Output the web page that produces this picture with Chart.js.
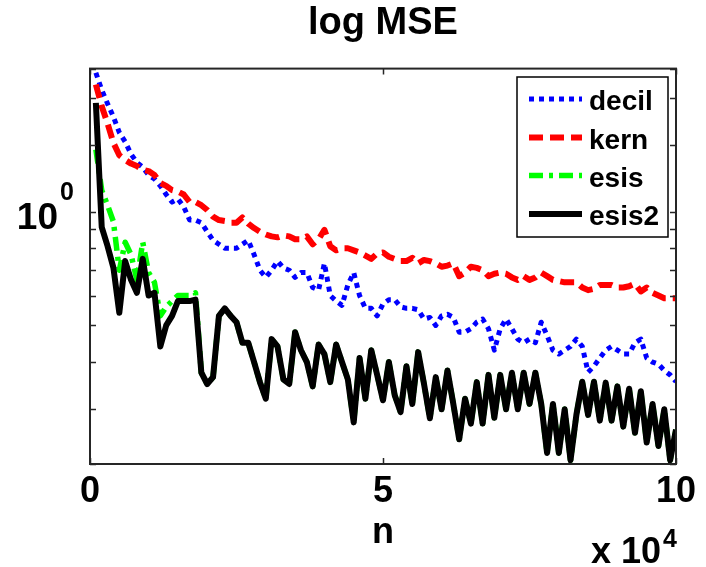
<!DOCTYPE html>
<html lang="en">
<head>
<meta charset="UTF-8">
<title>log MSE</title>
<script src="https://cdn.jsdelivr.net/npm/chart.js"></script>
<style>
  html, body { margin: 0; padding: 0; background: #fff; }
  #wrap { width: 706px; height: 567px; }
</style>
</head>
<body>
<div id="wrap"><canvas id="mseChart" width="706" height="567"></canvas></div>
<script>
// sample sizes n
var n = [1000, 2000, 3000, 4000, 5000, 6000, 7000, 8000, 9000, 10000,
  11000, 12000, 13000, 14000, 15000, 16000, 17000, 18000, 19000, 20000,
  21000, 22000, 23000, 24000, 25000, 26000, 27000, 28000, 29000, 30000,
  31000, 32000, 33000, 34000, 35000, 36000, 37000, 38000, 39000, 40000,
  41000, 42000, 43000, 44000, 45000, 46000, 47000, 48000, 49000, 50000,
  51000, 52000, 53000, 54000, 55000, 56000, 57000, 58000, 59000, 60000,
  61000, 62000, 63000, 64000, 65000, 66000, 67000, 68000, 69000, 70000,
  71000, 72000, 73000, 74000, 75000, 76000, 77000, 78000, 79000, 80000,
  81000, 82000, 83000, 84000, 85000, 86000, 87000, 88000, 89000, 90000,
  91000, 92000, 93000, 94000, 95000, 96000, 97000, 98000, 99000, 100000];

var decil = [2.33, 2.10, 1.93, 1.78, 1.62, 1.53, 1.42, 1.35, 1.31, 1.25,
  1.22, 1.17, 1.11, 1.06, 1.08, 1.03, 0.95, 0.95, 0.935, 0.885,
  0.84, 0.82, 0.80, 0.80, 0.80, 0.82, 0.84, 0.77, 0.70, 0.67,
  0.70, 0.74, 0.71, 0.70, 0.67, 0.69, 0.69, 0.63, 0.62, 0.73,
  0.60, 0.58, 0.565, 0.64, 0.69, 0.60, 0.555, 0.555, 0.53, 0.57,
  0.585, 0.585, 0.56, 0.555, 0.555, 0.55, 0.52, 0.525, 0.50, 0.53,
  0.535, 0.525, 0.48, 0.48, 0.49, 0.51, 0.52, 0.49, 0.43, 0.49,
  0.52, 0.49, 0.46, 0.45, 0.46, 0.45, 0.51, 0.47, 0.43, 0.42,
  0.43, 0.44, 0.46, 0.44, 0.376, 0.39, 0.41, 0.43, 0.44, 0.43,
  0.42, 0.42, 0.45, 0.46, 0.41, 0.40, 0.395, 0.38, 0.37, 0.355];

var kern = [2.17, 1.90, 1.71, 1.52, 1.41, 1.37, 1.34, 1.32, 1.29, 1.28,
  1.25, 1.19, 1.17, 1.14, 1.13, 1.11, 1.06, 1.06, 1.04, 1.01,
  0.97, 0.95, 0.945, 0.935, 0.935, 0.965, 0.93, 0.905, 0.885, 0.87,
  0.86, 0.855, 0.865, 0.86, 0.845, 0.845, 0.86, 0.82, 0.845, 0.895,
  0.81, 0.79, 0.80, 0.80, 0.79, 0.78, 0.765, 0.75, 0.775, 0.78,
  0.76, 0.75, 0.74, 0.74, 0.755, 0.73, 0.745, 0.74, 0.73, 0.715,
  0.72, 0.73, 0.675, 0.69, 0.715, 0.71, 0.70, 0.675, 0.685, 0.69,
  0.685, 0.67, 0.66, 0.675, 0.66, 0.67, 0.69, 0.675, 0.66, 0.655,
  0.65, 0.65, 0.65, 0.63, 0.62, 0.625, 0.64, 0.64, 0.64, 0.63,
  0.63, 0.635, 0.645, 0.615, 0.63, 0.61, 0.60, 0.59, 0.59, 0.59];

var esis = [1.46, 1.14, 1.04, 0.94, 0.70, 0.83, 0.77, 0.66, 0.83, 0.69,
  0.65, 0.53, 0.56, 0.58, 0.60, 0.60, 0.60, 0.61, 0.375, 0.35,
  0.365, 0.53, 0.555, 0.53, 0.51, 0.45, 0.45, 0.40, 0.354, 0.32,
  0.46, 0.44, 0.36, 0.35, 0.48, 0.43, 0.40, 0.345, 0.445, 0.42,
  0.354, 0.445, 0.40, 0.36, 0.277, 0.41, 0.32, 0.43, 0.37, 0.317,
  0.40, 0.327, 0.295, 0.39, 0.31, 0.425, 0.35, 0.284, 0.365, 0.30,
  0.38, 0.31, 0.25, 0.32, 0.275, 0.354, 0.275, 0.37, 0.285, 0.37,
  0.30, 0.375, 0.30, 0.375, 0.31, 0.375, 0.31, 0.23, 0.31, 0.23,
  0.30, 0.22, 0.29, 0.355, 0.29, 0.355, 0.28, 0.353, 0.28, 0.345,
  0.27, 0.34, 0.26, 0.335, 0.245, 0.31, 0.24, 0.30, 0.22, 0.265];

var esis2 = [1.94, 0.91, 0.81, 0.71, 0.54, 0.74, 0.66, 0.61, 0.75, 0.60,
  0.61, 0.44, 0.50, 0.53, 0.58, 0.58, 0.58, 0.585, 0.375, 0.35,
  0.365, 0.53, 0.555, 0.53, 0.51, 0.45, 0.45, 0.40, 0.354, 0.32,
  0.46, 0.44, 0.36, 0.35, 0.48, 0.43, 0.40, 0.345, 0.445, 0.42,
  0.354, 0.445, 0.40, 0.36, 0.277, 0.41, 0.32, 0.43, 0.37, 0.317,
  0.40, 0.327, 0.295, 0.39, 0.31, 0.425, 0.35, 0.284, 0.365, 0.30,
  0.38, 0.31, 0.25, 0.32, 0.275, 0.354, 0.275, 0.37, 0.285, 0.37,
  0.30, 0.375, 0.30, 0.375, 0.31, 0.375, 0.31, 0.23, 0.31, 0.23,
  0.30, 0.22, 0.29, 0.355, 0.29, 0.355, 0.28, 0.353, 0.28, 0.345,
  0.27, 0.34, 0.26, 0.335, 0.245, 0.31, 0.24, 0.30, 0.22, 0.265];

var xTicks = [0, 50000, 100000];
var yMin = 0.215, yMax = 2.39;

var FONT = '"Liberation Sans", Arial, Helvetica, sans-serif';

function points(ys) {
  return ys.map(function (y, i) { return { x: n[i], y: y }; });
}

// MATLAB-like box: frame, inward ticks, 10^0 label, exponent, legend
var matlabFrame = {
  id: 'matlabFrame',
  afterDraw: function (chart) {
    var ctx = chart.ctx, a = chart.chartArea;
    var xs = chart.scales.x, ys = chart.scales.y;
    ctx.save();
    ctx.strokeStyle = '#262626';
    ctx.lineWidth = 2;
    ctx.setLineDash([]);
    ctx.strokeRect(a.left, a.top, a.right - a.left, a.bottom - a.top);

    // inward tick marks
    ctx.lineWidth = 1.5;
    ctx.beginPath();
    ys.ticks.forEach(function (t) {
      var py = Math.round(ys.getPixelForValue(t.value)) + 0.5;
      ctx.moveTo(a.left, py); ctx.lineTo(a.left + 6, py);
      ctx.moveTo(a.right, py); ctx.lineTo(a.right - 6, py);
    });
    xTicks.forEach(function (v) {
      var px = Math.round(xs.getPixelForValue(v)) + 0.5;
      ctx.moveTo(px, a.top); ctx.lineTo(px, a.top + 6);
      ctx.moveTo(px, a.bottom); ctx.lineTo(px, a.bottom - 6);
    });
    ctx.stroke();

    // y tick label 10^0
    var y1 = ys.getPixelForValue(1);
    ctx.fillStyle = '#000';
    ctx.textBaseline = 'alphabetic';
    ctx.textAlign = 'right';
    ctx.font = 'bold 37px ' + FONT;
    ctx.fillText('10', 58, y1 + 17);
    ctx.textAlign = 'left';
    ctx.font = 'bold 25px ' + FONT;
    ctx.fillText('0', 60, y1 - 12);

    // x exponent
    ctx.textAlign = 'right';
    ctx.font = 'bold 36px ' + FONT;
    ctx.fillText('x 10', 661, 563);
    ctx.textAlign = 'left';
    ctx.font = 'bold 25px ' + FONT;
    ctx.fillText('4', 663, 547);

    // legend
    var lx = 517, ly = 77, lw = 151, lh = 160;
    ctx.fillStyle = '#fff';
    ctx.fillRect(lx, ly, lw, lh);
    ctx.strokeStyle = '#000';
    ctx.lineWidth = 1.5;
    ctx.strokeRect(lx, ly, lw, lh);
    var rows = [99, 137.5, 175.5, 214];
    chart.data.datasets.forEach(function (ds, i) {
      var y = rows[i];
      ctx.strokeStyle = ds.borderColor;
      ctx.lineWidth = ds.borderWidth;
      ctx.lineCap = 'butt';
      ctx.setLineDash(ds.borderDash || []);
      ctx.beginPath();
      ctx.moveTo(529, y);
      ctx.lineTo(582, y);
      ctx.stroke();
      ctx.setLineDash([]);
      ctx.fillStyle = '#000';
      ctx.textAlign = 'left';
      ctx.font = 'bold 28px ' + FONT;
      ctx.fillText(ds.label, 589, y + 11);
    });
    ctx.restore();
  }
};

var ctx = document.getElementById('mseChart').getContext('2d');
new Chart(ctx, {
  type: 'line',
  data: {
    datasets: [
      { label: 'decil', data: points(decil), borderColor: '#0000ff', borderWidth: 5,
        borderDash: [5, 5], order: 4 },
      { label: 'kern', data: points(kern), borderColor: '#ff0000', borderWidth: 6,
        borderDash: [14, 7], order: 3 },
      { label: 'esis', data: points(esis), borderColor: '#00ff00', borderWidth: 5.5,
        borderDash: [14, 6, 4, 6], order: 2 },
      { label: 'esis2', data: points(esis2), borderColor: '#000000', borderWidth: 6,
        order: 1 }
    ]
  },
  options: {
    responsive: false,
    animation: false,
    events: [],
    layout: { padding: { left: 90, right: 30, top: 0, bottom: 0 } },
    elements: {
      point: { radius: 0 },
      line: { tension: 0, fill: false, borderJoinStyle: 'round', borderCapStyle: 'butt' }
    },
    plugins: {
      legend: { display: false },
      tooltip: { enabled: false },
      title: {
        display: true,
        text: 'log MSE',
        color: '#000',
        font: { family: FONT, size: 38, weight: 'bold' },
        padding: { top: 1, bottom: 22 }
      }
    },
    scales: {
      x: {
        type: 'linear',
        min: 0,
        max: 100000,
        grid: { display: false, drawTicks: false },
        border: { display: false },
        ticks: {
          stepSize: 50000,
          padding: 6,
          color: '#000',
          font: { family: FONT, size: 36, weight: 'bold' },
          callback: function (v) { return v / 10000; }
        },
        title: {
          display: true,
          text: 'n',
          color: '#000',
          font: { family: FONT, size: 36, weight: 'bold' },
          padding: { top: 0, bottom: 12 }
        },
        afterFit: function (scale) { scale.height = 103; }
      },
      y: {
        type: 'logarithmic',
        min: yMin,
        max: yMax,
        display: false
      }
    }
  },
  plugins: [matlabFrame]
});
</script>
</body>
</html>
